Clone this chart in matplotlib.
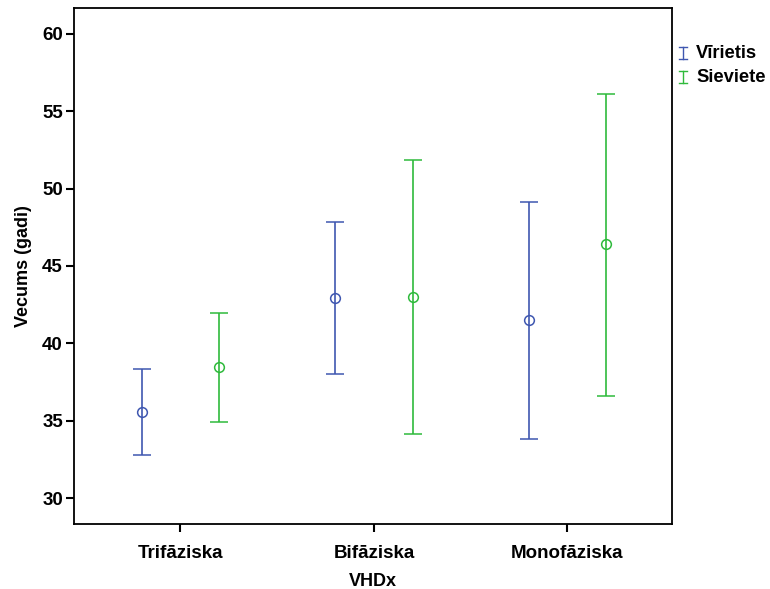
import numpy as np
import matplotlib.pyplot as plt
from matplotlib.lines import Line2D

plt.rcParams['font.family'] = ['Liberation Sans', 'DejaVu Sans']

# Mean age with 95% CI per VHD type and sex
categories = ["Trifāziska", "Bifāziska", "Monofāziska"]
groups = ["Vīrietis", "Sieviete"]
means = {
    "Vīrietis": [35.6, 42.95, 41.5],
    "Sieviete": [38.45, 43.0, 46.45],
}
lower = {
    "Vīrietis": [32.78, 38.0, 33.83],
    "Sieviete": [34.95, 34.15, 36.6],
}
upper = {
    "Vīrietis": [38.38, 47.87, 49.13],
    "Sieviete": [41.95, 51.84, 56.13],
}
colors = {"Vīrietis": "#3f57b0", "Sieviete": "#2fba3c"}
offsets = {"Vīrietis": -0.2, "Sieviete": 0.2}

W, H = 770, 589
fig = plt.figure(figsize=(W / 100, H / 100), dpi=100)
ax = fig.add_axes([74 / W, 1 - 524 / H, 598 / W, 516 / H])

x = np.arange(len(categories))
for g in groups:
    m = np.array(means[g])
    lo = m - np.array(lower[g])
    hi = np.array(upper[g]) - m
    ax.errorbar(x + offsets[g], m, yerr=[lo, hi], fmt="o", color=colors[g],
                mfc="none", mec=colors[g], ms=7, mew=1.1, elinewidth=1.2,
                capsize=6.8, capthick=1.2)

ax.set_xlim(-0.55, 2.54)
ax.set_ylim(28.35, 61.65)
ax.set_xticks(x)
ax.set_xticklabels(categories)
ax.set_yticks([30, 35, 40, 45, 50, 55, 60])
ax.tick_params(direction="out", length=6, width=1.5, labelsize=13.5)
ax.tick_params(axis="y", pad=2)
ax.tick_params(axis="x", pad=9)
for lab in ax.get_xticklabels() + ax.get_yticklabels():
    lab.set_fontweight("bold")
for s in ax.spines.values():
    s.set_linewidth(1.3)

ax.set_xlabel("VHDx", fontsize=13, fontweight="bold", labelpad=8)
ax.set_ylabel("Vecums (gadi)", fontsize=13, fontweight="bold", labelpad=7)

# legend: small I-beam glyph per group
for i, g in enumerate(groups):
    yc = 1 - (53 + i * 24) / H
    xc = 683 / W
    hh = 6 / H
    hw = 4 / W
    fig.add_artist(Line2D([xc, xc], [yc - hh, yc + hh], color=colors[g], lw=1))
    fig.add_artist(Line2D([xc - hw, xc + hw], [yc + hh, yc + hh], color=colors[g], lw=1))
    fig.add_artist(Line2D([xc - hw, xc + hw], [yc - hh, yc - hh], color=colors[g], lw=1))
    fig.text(696 / W, yc, g, fontsize=13.2, fontweight="bold",
             va="center", ha="left")

fig.savefig("out.png", dpi=100)
